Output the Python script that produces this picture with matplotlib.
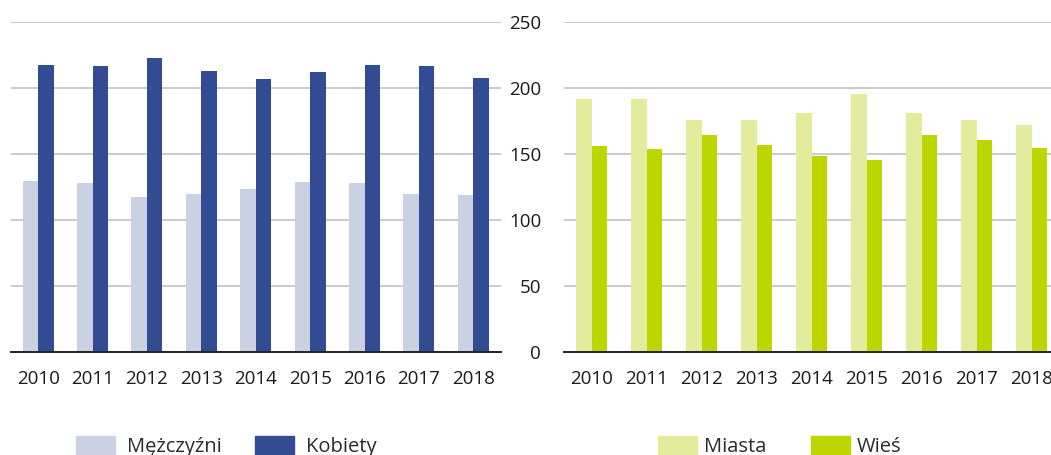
import numpy as np
import matplotlib
matplotlib.use("Agg")
import matplotlib.pyplot as plt
from matplotlib.patches import Patch

plt.rcParams['font.family'] = ['Open Sans', 'DejaVu Sans']

years = ['2010', '2011', '2012', '2013', '2014', '2015', '2016', '2017', '2018']
men = [130, 128, 118, 120, 124, 129, 128, 120, 119]
women = [218, 217, 223, 213, 207, 212, 218, 217, 208]
towns = [192, 192, 176, 176, 181, 196, 181, 176, 172]
village = [156, 154, 165, 157, 149, 146, 165, 161, 155]

c_men, c_women = '#cbd1e3', '#334b93'
c_towns, c_village = '#e3ec9c', '#bed600'
txt = '#1a1a1a'
fs = 13.5
lfs = 14.5

W, H = 1051, 455
fig = plt.figure(figsize=(W / 100, H / 100), dpi=100)

bottom = (H - 352.3) / H
height = 330 / H
ax1 = fig.add_axes([11 / W, bottom, 489.5 / W, height])
ax2 = fig.add_axes([564 / W, bottom, 495 / W, height])

x = np.arange(len(years))
bw = 0.285


def style(ax, show_labels):
    ax.set_xlim(-0.5, len(years) - 0.5)
    ax.set_ylim(0, 250)
    ax.set_yticks([0, 50, 100, 150, 200, 250])
    ax.set_xticks(x)
    ax.set_xticklabels(years)
    for s in ['top', 'right', 'left']:
        ax.spines[s].set_visible(False)
    ax.spines['bottom'].set_color('#222222')
    ax.spines['bottom'].set_linewidth(1.4)
    ax.spines['bottom'].set_zorder(5)
    ax.yaxis.grid(True, color='#bcbcbc', linewidth=1.1)
    ax.set_axisbelow(True)
    ax.tick_params(axis='x', length=0, pad=13, labelsize=fs, labelcolor=txt)
    ax.tick_params(axis='y', length=0, pad=16.5, labelsize=fs, labelcolor=txt,
                   labelleft=show_labels)


ax1.bar(x - bw / 2, men, bw, color=c_men, zorder=2)
ax1.bar(x + bw / 2, women, bw, color=c_women, zorder=2)
style(ax1, False)

ax2.bar(x - bw / 2, towns, bw, color=c_towns, zorder=2)
ax2.bar(x + bw / 2, village, bw, color=c_village, zorder=2)
style(ax2, True)

em = lfs * 100 / 72
leg_kw = dict(loc='upper left', ncol=2, frameon=False, borderpad=0, borderaxespad=0,
              handlelength=39 / em, handleheight=22 / em,
              fontsize=lfs, labelcolor='#2a2a2a')
fig.legend([Patch(color=c_men), Patch(color=c_women)], ['Mężczyźni', 'Kobiety'],
           bbox_to_anchor=(76 / W, 1 - 436 / H), columnspacing=33.7 / em,
           handletextpad=12 / em, **leg_kw)
fig.legend([Patch(color=c_towns), Patch(color=c_village)], ['Miasta', 'Wieś'],
           bbox_to_anchor=(657.7 / W, 1 - 436 / H), columnspacing=45 / em,
           handletextpad=7 / em, **leg_kw)

fig.savefig('out.png', dpi=100)
